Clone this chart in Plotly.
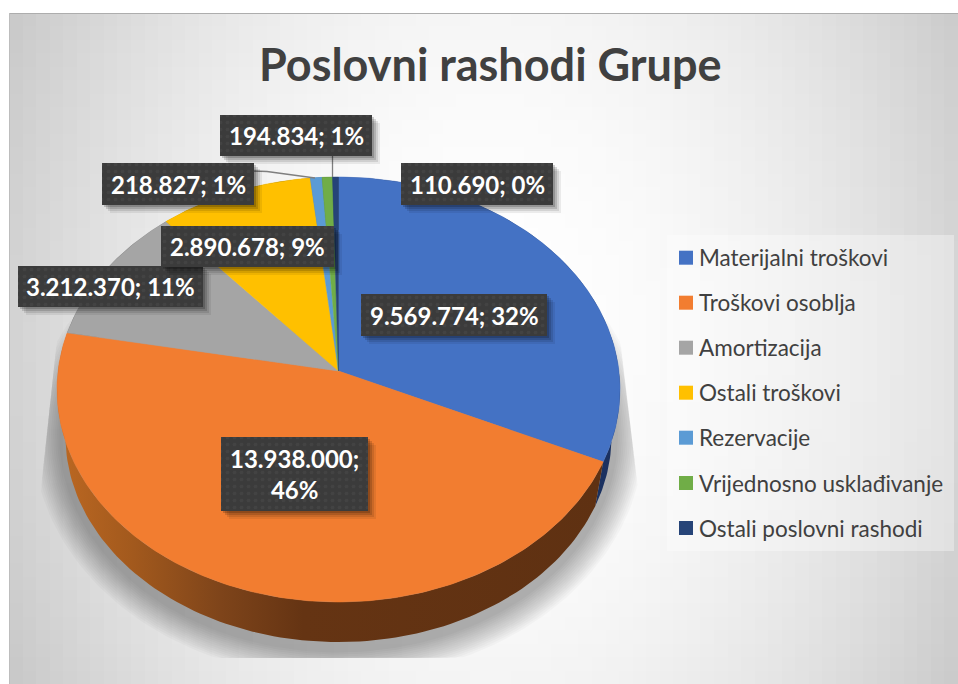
import numpy as np
import plotly.graph_objects as go

categories = ["Materijalni troškovi", "Troškovi osoblja", "Amortizacija", "Ostali troškovi",
              "Rezervacije", "Vrijednosno usklađivanje", "Ostali poslovni rashodi"]
values = [9569774, 13938000, 3212370, 2890678, 218827, 194834, 110690]
percent_labels = [32, 46, 11, 9, 1, 1, 0]
colors = ["#4472C4", "#F27D30", "#A5A5A5", "#FFC000", "#5B9BD5", "#70AD47", "#264478"]
wall_colors = ["#1B3160", "#5F3112", "#555555", "#7F6000", "#2E5E8A", "#38571F", "#132340"]
title = "Poslovni rashodi Grupe"

# label box centres (x, y, w, h) in page pixels
label_boxes = [(454, 315, 186, 42), (294.5, 474, 147, 74), (110.5, 286.5, 185, 41), (247.5, 246.5, 173, 41),
               (178, 184, 152, 42), (296, 135.5, 152, 41), (477, 184, 152, 42)]

HUBX, HUBY = 338.5, 371.0
EA, EB, EYC = 281.5, 212.5, -18.5
K = 0.083
B = EB + EYC * K
C = EYC + EB * K
D = B - K * C
A = EA * D / (EB * np.sqrt(1 - K ** 2))


def rim(theta):
    u, v = np.sin(theta), np.cos(theta)
    w = 1 + K * v
    return A * u / w, (B * v + C) / w


def top_xy(theta):
    X, Y = rim(theta)
    return HUBX + X, HUBY - Y


def wall_bottom_xy(theta, s=0.97, drop=47):
    X, Y = rim(theta)
    return HUBX + X * s, HUBY - Y * s + drop


total = sum(values)
edges = np.concatenate([[0], np.cumsum(values)]) / total * 2 * np.pi

fig = go.Figure()

# chart-area background
ex = np.linspace(9, 958, 71)
ey = np.linspace(13, 684, 51)
GX, GY = np.meshgrid((ex[:-1] + ex[1:]) / 2, (ey[:-1] + ey[1:]) / 2)
dist2 = ((GX - 490) / 480) ** 2 + ((GY - 340) / 700) ** 2
lum = 255 - 45 * dist2
fig.add_trace(go.Heatmap(x=ex, y=ey, z=lum, zmin=0, zmax=255,
                         colorscale=[[0, "rgb(0,0,0)"], [1, "rgb(255,255,255)"]],
                         showscale=False, hoverinfo="skip"))

# soft shadow under the pie
t = np.linspace(0, 2 * np.pi, 240)
for e in np.arange(2, 30, 2.0):
    sx = 338.5 + (EA - 4 + e) * np.sin(t)
    sy = 436 + (EB + 2 + e) * np.cos(t)
    sy = np.clip(sy, 320, 658)
    xr = np.minimum(618 + (sy - 320) * 21 / 177, 639)
    xl = np.maximum(59 - (sy - 320) * 19 / 177, 40)
    sx = np.clip(sx, xl, xr)
    fig.add_trace(go.Scatter(x=sx, y=sy, mode="lines", fill="toself", line=dict(width=0),
                             fillcolor="rgba(0,0,0,0.024)", hoverinfo="skip", showlegend=False))

# slice walls
for i, name in enumerate(categories):
    th = np.linspace(edges[i], edges[i + 1], 120)
    tx, ty = top_xy(th)
    bx, by = wall_bottom_xy(th)
    extra = {}
    if i == 1:
        extra["fillgradient"] = dict(type="horizontal",
                                     colorscale=[[0, "#BC6822"], [0.14, "#A2591D"], [0.3, "#7E441A"],
                                                 [0.45, "#653413"], [1, "#5F3112"]])
    else:
        extra["fillcolor"] = wall_colors[i]
    fig.add_trace(go.Scatter(x=np.r_[tx, bx[::-1]], y=np.r_[ty, by[::-1]], mode="lines", fill="toself",
                             line=dict(width=0), hoverinfo="skip", showlegend=False, **extra))

# slice tops
for i, name in enumerate(categories):
    th = np.linspace(edges[i], edges[i + 1], max(4, int(400 * values[i] / total)))
    tx, ty = top_xy(th)
    fig.add_trace(go.Scatter(x=np.r_[HUBX, tx, HUBX], y=np.r_[HUBY, ty, HUBY], mode="lines", fill="toself",
                             line=dict(width=0.5, color=colors[i]), fillcolor=colors[i],
                             name=name, hoverinfo="text", text=f"{name}: {values[i]}", showlegend=False))

# leader lines
fig.add_trace(go.Scatter(x=[332.5, 332.5], y=[156, 177], mode="lines", line=dict(color="#7F7F7F", width=1.3),
                         hoverinfo="skip", showlegend=False))
fig.add_trace(go.Scatter(x=[254, 267, 315], y=[171, 171.5, 178], mode="lines", line=dict(color="#7F7F7F", width=1.3),
                         hoverinfo="skip", showlegend=False))


def fmt(v):
    return f"{v:,}".replace(",", ".")


annotations = []
for i, (cx, cy, w, h) in enumerate(label_boxes):
    x0, x1, y0, y1 = cx - w / 2, cx + w / 2, cy - h / 2, cy + h / 2
    for s, op in ((8, 0.07), (6, 0.10), (4, 0.14), (2, 0.18)):
        fig.add_trace(go.Scatter(x=[x0 + s, x1 + s, x1 + s, x0 + s, x0 + s], y=[y0 + s, y0 + s, y1 + s, y1 + s, y0 + s],
                                 mode="lines", fill="toself", line=dict(width=0), fillcolor=f"rgba(0,0,0,{op})",
                                 hoverinfo="skip", showlegend=False))
    fig.add_trace(go.Scatter(x=[x0, x1, x1, x0, x0], y=[y0, y0, y1, y1, y0], mode="lines", fill="toself",
                             line=dict(width=0),
                             fillpattern=dict(shape=".", size=7, solidity=0.2, fgcolor="#4C4C4C", bgcolor="#3B3B3B"),
                             hoverinfo="skip", showlegend=False))
    sep = ";<br>" if i == 1 else "; "
    annotations.append(dict(x=cx, y=cy, xref="x", yref="y", showarrow=False, xanchor="center", yanchor="middle",
                            text=f"{fmt(values[i])}{sep}{percent_labels[i]}%",
                            font=dict(family="Lato", size=24, color="#FFFFFF", weight=700)))

# legend
fig.add_trace(go.Scatter(x=[667, 954, 954, 667, 667], y=[235, 235, 551, 551, 235], mode="lines", fill="toself",
                         line=dict(width=0), fillcolor="rgba(255,255,255,0.35)", hoverinfo="skip", showlegend=False))
legend_y = [257.7, 302.7, 347.7, 392.7, 437.7, 483, 528]
fig.add_trace(go.Scatter(x=[686] * 7, y=legend_y, mode="markers",
                         marker=dict(symbol="square", size=14, color=colors, line=dict(width=0)),
                         hoverinfo="skip", showlegend=False))
for name, y in zip(categories, legend_y):
    annotations.append(dict(x=697, y=y, xref="x", yref="y", showarrow=False, xanchor="left", yanchor="middle",
                            text=name, font=dict(family="Lato", size=22.5, color="#404040")))

annotations.append(dict(x=490, y=64, xref="x", yref="y", showarrow=False, xanchor="center", yanchor="middle",
                        text=title, font=dict(family="Lato", size=45, color="#404040", weight=700)))

fig.update_layout(
    width=958, height=684, margin=dict(l=0, r=0, t=0, b=0),
    paper_bgcolor="#FFFFFF", plot_bgcolor="#FFFFFF", showlegend=False,
    xaxis=dict(range=[0, 958], visible=False, fixedrange=True),
    yaxis=dict(range=[684, 0], visible=False, fixedrange=True),
    annotations=annotations,
    shapes=[
        dict(type="line", xref="x", yref="y", x0=9, x1=958, y0=13.5, y1=13.5, layer="above",
             line=dict(width=1, color="#ADADAD")),
        dict(type="line", xref="x", yref="y", x0=9.5, x1=9.5, y0=13, y1=684, layer="above",
             line=dict(width=1, color="#BDBDBD")),
    ],
)
fig.write_html("out.html", config=dict(displayModeBar=False), post_script="document.body.style.margin='0';")
